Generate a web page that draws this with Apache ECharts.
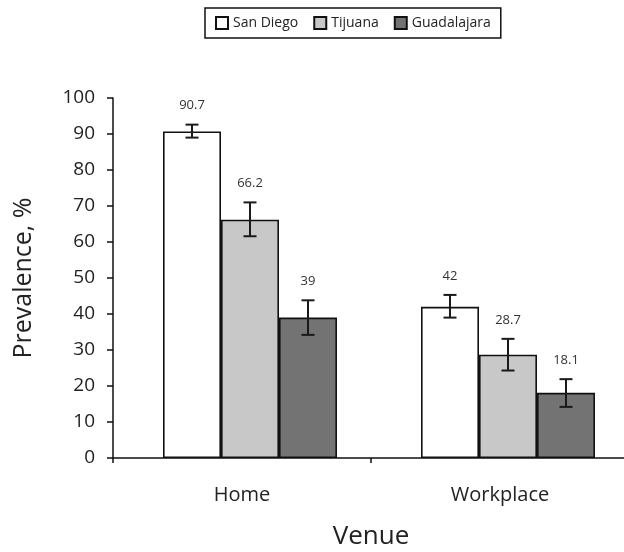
<!DOCTYPE html>
<html>
<head>
<meta charset="utf-8">
<script src="https://cdn.jsdelivr.net/npm/echarts@6/dist/echarts.min.js"></script>
<style>
  html, body { margin: 0; padding: 0; background: #fff; }
  #chart { width: 624px; height: 552px; }
</style>
</head>
<body>
<div id="chart"></div>
<script>
var categories = ['Home', 'Workplace'];
var seriesNames = ['San Diego', 'Tijuana', 'Guadalajara'];
var sanDiego = [90.7, 42];
var tijuana = [66.2, 28.7];
var guadalajara = [39, 18.1];
// error bar low / high per city
var sanDiegoErr = [[89.0, 92.6], [39.0, 45.3]];
var tijuanaErr = [[61.6, 71.0], [24.3, 33.1]];
var guadalajaraErr = [[34.2, 43.8], [14.2, 21.9]];
var yTicks = [0, 10, 20, 30, 40, 50, 60, 70, 80, 90, 100];

var colors = ['#ffffff', '#c8c8c8', '#737373'];
var values = [sanDiego, tijuana, guadalajara];
var errs = [sanDiegoErr, tijuanaErr, guadalajaraErr];
var barW = 58;
var font = '"Open Sans", sans-serif';

// error bar + label data: [category, series, low, high, value]
var errData = [];
values.forEach(function (vals, s) {
  vals.forEach(function (v, c) {
    errData.push([c, s, errs[s][c][0], errs[s][c][1], v]);
  });
});

var myChart = echarts.init(document.getElementById('chart'));

var series = values.map(function (vals, s) {
  return {
    name: seriesNames[s],
    type: 'bar',
    xAxisIndex: 1,
    yAxisIndex: 1,
    barWidth: barW,
    barGap: '0%',
    z: 2,
    itemStyle: { color: colors[s], borderColor: '#111', borderWidth: 1.6 },
    data: vals
  };
});

series.push({
  type: 'custom',
  xAxisIndex: 1,
  yAxisIndex: 1,
  silent: true,
  z: 10,
  data: errData,
  renderItem: function (params, api) {
    var c = api.value(0), s = api.value(1);
    var lo = api.coord([c, api.value(2)]);
    var hi = api.coord([c, api.value(3)]);
    var x = lo[0] + (s - 1) * barW;
    var cap = 6.5;
    var st = { stroke: '#1a1a1a', lineWidth: 2 };
    return {
      type: 'group',
      children: [
        { type: 'line', shape: { x1: x, y1: lo[1], x2: x, y2: hi[1] }, style: st },
        { type: 'line', shape: { x1: x - cap, y1: lo[1], x2: x + cap, y2: lo[1] }, style: st },
        { type: 'line', shape: { x1: x - cap, y1: hi[1], x2: x + cap, y2: hi[1] }, style: st },
        {
          type: 'text',
          style: {
            text: String(api.value(4)),
            x: x, y: hi[1] - 19,
            align: 'center', verticalAlign: 'middle',
            fontSize: 13, fontFamily: font, fill: '#333'
          }
        }
      ]
    };
  }
});

var option = {
  backgroundColor: '#fff',
  animation: false,
  legend: {
    data: seriesNames,
    left: 205,
    top: 8,
    padding: [8, 10],
    borderColor: '#111',
    borderWidth: 1.5,
    itemGap: 15,
    itemWidth: 12,
    itemHeight: 12,
    icon: 'rect',
    textStyle: { fontSize: 14, fontFamily: font, color: '#222' }
  },
  grid: [
    { left: 113, top: 98, width: 516, height: 360, outerBoundsMode: 'none', containLabel: false },
    { left: 121, top: 98, width: 516, height: 360, outerBoundsMode: 'none', containLabel: false }
  ],
  xAxis: [
    {
      gridIndex: 0,
      type: 'category',
      data: categories,
      name: 'Venue',
      nameLocation: 'middle',
      nameGap: 66,
      nameTextStyle: { fontSize: 26, fontFamily: font, color: '#222' },
      axisLine: { lineStyle: { color: '#111', width: 1.5 } },
      axisTick: { show: true, length: 5, lineStyle: { color: '#111', width: 1.5 } },
      axisLabel: { fontSize: 20, fontFamily: font, color: '#222', margin: 27 }
    },
    {
      gridIndex: 1,
      type: 'category',
      data: categories,
      show: false
    }
  ],
  yAxis: [
    {
      gridIndex: 0,
      type: 'value',
      min: 0,
      max: 100,
      interval: 10,
      name: 'Prevalence, %',
      nameLocation: 'middle',
      nameGap: 77,
      nameTextStyle: { fontSize: 25, fontFamily: font, color: '#222' },
      splitLine: { show: false },
      axisLine: { show: true, lineStyle: { color: '#111', width: 1.5 } },
      axisTick: { show: true, length: 6, lineStyle: { color: '#111', width: 1.5 } },
      axisLabel: {
        fontSize: 19, fontFamily: font, color: '#222', margin: 18,
        formatter: function (v) { return yTicks.indexOf(v) >= 0 ? v : ''; }
      }
    },
    {
      gridIndex: 1,
      type: 'value',
      min: 0,
      max: 100,
      show: false
    }
  ],
  series: series
};

myChart.setOption(option);
</script>
</body>
</html>
